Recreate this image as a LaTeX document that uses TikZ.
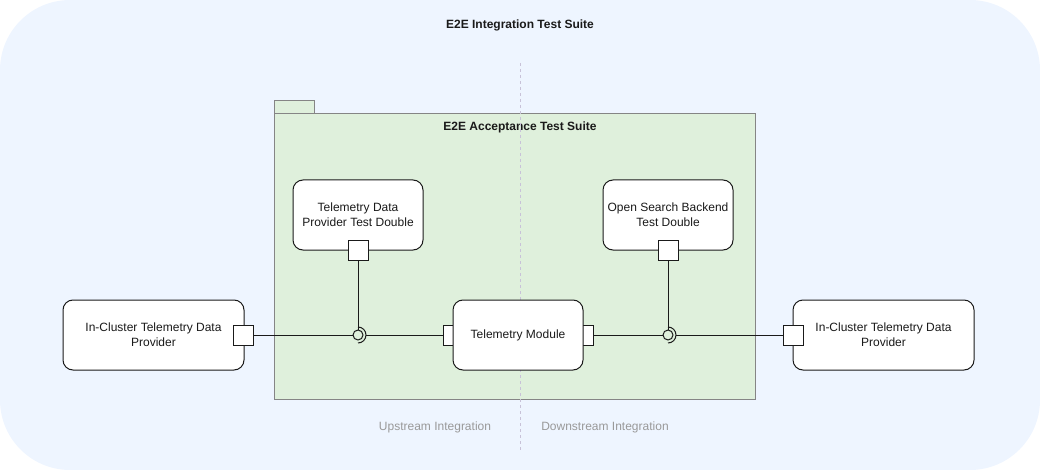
\documentclass[tikz,border=0pt]{standalone}
\usepackage{fontspec}
\setmainfont{Liberation Sans}
\usepackage{xcolor}
\definecolor{suiteblue}{HTML}{EEF5FF}
\definecolor{pkggreen}{HTML}{DFF0DC}
\definecolor{pkgline}{HTML}{858585}
\definecolor{splitline}{HTML}{C8C2D8}
\definecolor{notegray}{HTML}{999999}
\definecolor{ink}{HTML}{1A1A1A}

\begin{document}
\begin{tikzpicture}[x=1pt,y=-1pt,
		font=\fontsize{12}{15}\selectfont,
		comp/.style={draw=ink,fill=white,rounded corners=10pt,minimum height=70pt,align=center,line width=1pt,text=ink},
		port/.style={draw=ink,fill=white,minimum size=20pt,inner sep=0pt,line width=1pt},
		ball/.style={circle,draw=ink,line width=1pt,minimum size=10pt,inner sep=0pt},
		wire/.style={draw=ink,line width=1pt}]
			\useasboundingbox (0,0) rectangle (1040,470);
			% outer suite
			\fill[suiteblue,rounded corners=70pt] (0,0) rectangle (1040,470);
			\node[font=\fontsize{12}{15}\selectfont\bfseries,text=ink] (suite) at (520,25) {E2E Integration Test Suite};
			% acceptance package
			\draw[pkgline,fill=pkggreen] (274,100) rectangle (314,113);
			\draw[pkgline,fill=pkggreen] (274,113) rectangle (755,399);
			\node[font=\fontsize{12}{15}\selectfont\bfseries,text=ink] (pkg) at (520,127) {E2E Acceptance Test Suite};
			% split
			\draw[splitline,dash pattern=on 3pt off 3pt] (520,63) -- (520,450);
			\node[text=notegray] (up) at (435,427) {Upstream Integration};
			\node[text=notegray] (down) at (605,427) {Downstream Integration};
			% components
			\node[port] (pTmL) at (453,335) {};
			\node[port] (pTmR) at (583,335) {};
			\node[comp,minimum width=130pt] (tm) at (518,335) {Telemetry Module};
			\node[comp,minimum width=181pt] (icdpL) at (153.5,335) {In-Cluster Telemetry Data\\Provider};
			\node[comp,minimum width=181pt] (icdpR) at (883.5,335) {In-Cluster Telemetry Data\\Provider};
			\node[comp,minimum width=130pt] (tdp) at (358,215) {Telemetry Data\\Provider Test Double};
			\node[comp,minimum width=130pt] (osb) at (668,215) {Open Search Backend\\Test Double};
			\node[port] (pL) at (243.5,335) {};
			\node[port] (pR) at (793,335) {};
			\node[port] (pTdp) at (358,250) {};
			\node[port] (pOsb) at (668,250) {};
			% ball and socket
			\node[ball] (ballL) at (358,335) {};
			\node[ball] (ballR) at (668,335) {};
			\coordinate (sockL) at (366,335);
			\coordinate (sockR) at (676,335);
			\draw[wire] (358,327) arc[start angle=-90,end angle=90,radius=8];
			\draw[wire] (668,327) arc[start angle=-90,end angle=90,radius=8];
			\draw[wire] (pL.east) -- (ballL.west);
			\draw[wire] (sockL) -- (pTmL.west);
			\draw[wire] (pTdp.south) -- (ballL.north);
			\draw[wire] (pTmR.east) -- (ballR.west);
			\draw[wire] (sockR) -- (pR.west);
			\draw[wire] (pOsb.south) -- (ballR.north);
		\end{tikzpicture}
\end{document}
